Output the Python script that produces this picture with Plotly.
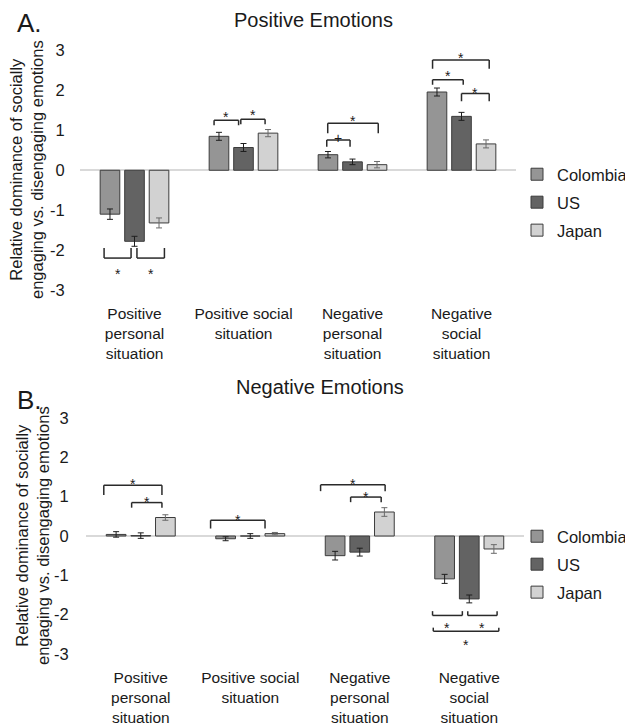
import plotly.graph_objects as go

# ---------------- data ----------------
categories = [
    "Positive<br>personal<br>situation",
    "Positive social<br>situation",
    "Negative<br>personal<br>situation",
    "Negative<br>social<br>situation",
]
countries = ["Colombia", "US", "Japan"]
y_ticks = [-3, -2, -1, 0, 1, 2, 3]
y_tick_labels = ["-3", "-2", "-1", "0", "1", "2", "3"]

# Panel A: Positive emotions
pos_colombia = [-1.10, 0.85, 0.39, 1.96]
pos_us = [-1.78, 0.57, 0.21, 1.35]
pos_japan = [-1.32, 0.93, 0.14, 0.66]
pos_err_colombia = [0.13, 0.10, 0.08, 0.10]
pos_err_us = [0.125, 0.10, 0.07, 0.10]
pos_err_japan = [0.125, 0.09, 0.08, 0.10]

# Panel B: Negative emotions
neg_colombia = [0.04, -0.07, -0.50, -1.09]
neg_us = [0.01, 0.00, -0.41, -1.60]
neg_japan = [0.47, 0.06, 0.61, -0.33]
neg_err_colombia = [0.07, 0.05, 0.11, 0.115]
neg_err_us = [0.07, 0.06, 0.10, 0.10]
neg_err_japan = [0.07, 0.03, 0.11, 0.11]

# significance brackets: (category, from bar, to bar, level, tip level, label, label level)
pos_brackets = [
    (0, -0.24, 0.86, -2.20, -1.95, "*", -2.52),
    (0, 1.10, 2.22, -2.20, -1.95, "*", -2.52),
    (1, -0.20, 0.80, 1.25, 1.13, "*", 1.42),
    (1, 0.89, 1.88, 1.28, 1.15, "*", 1.47),
    (2, -0.05, 0.90, 0.76, 0.59, "+", 0.80),
    (2, -0.01, 2.05, 1.18, 0.93, "*", 1.30),
    (3, -0.18, 2.13, 2.76, 2.54, "*", 2.88),
    (3, -0.18, 1.07, 2.27, 2.14, "*", 2.44),
    (3, 1.00, 2.13, 1.92, 1.73, "*", 2.02),
]
neg_brackets = [
    (0, -0.50, 1.86, 1.29, 1.04, "*", 1.40),
    (0, 0.63, 1.86, 0.85, 0.72, "*", 0.93),
    (1, -0.61, 1.60, 0.40, 0.19, "*", 0.49),
    (2, -0.59, 2.03, 1.30, 1.14, "*", 1.40),
    (2, 0.63, 1.87, 0.99, 0.86, "*", 1.08),
    (3, -0.49, 0.72, -2.02, -1.91, "*", -2.27),
    (3, 0.94, 2.13, -2.02, -1.91, "*", -2.27),
    (3, -0.46, 2.20, -2.42, -2.33, "*", -2.69),
]

# ---------------- style ----------------
FONT = "Liberation Sans, Arial, sans-serif"
TXT = "#1a1a1a"
bar_colors = {"Colombia": "#959595", "US": "#636363", "Japan": "#d2d2d2"}
err_colors = {"Colombia": "#1e1e1e", "US": "#1e1e1e", "Japan": "#6a6a6a"}
BARGAP = 0.325
BARGROUPGAP = 0.2
SLOT = (1 - BARGAP) / 3

# the page body has an 8px margin, so the figure is drawn 8px in from the window corner
OFF = 8
W, H = 633 - OFF, 726 - OFF


def px(x):
    return (x - OFF) / W


def py(y):
    return 1 - (y - OFF) / H


fig = go.Figure()

panels = [
    ("pos", [pos_colombia, pos_us, pos_japan], [pos_err_colombia, pos_err_us, pos_err_japan], "x", "y", "legend"),
    ("neg", [neg_colombia, neg_us, neg_japan], [neg_err_colombia, neg_err_us, neg_err_japan], "x2", "y2", "legend2"),
]

for pname, vals, errs, xa, ya, leg in panels:
    for country, v, e in zip(countries, vals, errs):
        fig.add_trace(go.Bar(
            x=categories, y=v, name=country,
            xaxis=xa, yaxis=ya, legend=leg,
            legendgroup=f"{pname}-{country}",
            marker=dict(color=bar_colors[country], line=dict(color="#3c3c3c", width=1)),
            error_y=dict(type="data", array=e, color=err_colors[country], thickness=1, width=3),
        ))

shapes = []
annotations = []


def add_brackets(brackets, xref, yref):
    for cat, b0, b1, lvl, tip, label, ly in brackets:
        x0 = cat + (b0 - 1) * SLOT
        x1 = cat + (b1 - 1) * SLOT
        line = dict(color="#2a2a2a", width=1.5)
        for (xa0, ya0, xa1, ya1) in [(x0, tip, x0, lvl), (x0, lvl, x1, lvl), (x1, lvl, x1, tip)]:
            shapes.append(dict(type="line", xref=xref, yref=yref,
                               x0=xa0, y0=ya0, x1=xa1, y1=ya1, line=line))
        annotations.append(dict(
            xref=xref, yref=yref, x=(x0 + x1) / 2, y=ly, text=label,
            showarrow=False, xanchor="center", yanchor="middle",
            yshift=-3 if label == "*" else 0,
            font=dict(family=FONT, size=14, color=TXT),
        ))


add_brackets(pos_brackets, "x", "y")
add_brackets(neg_brackets, "x2", "y2")

# panel titles and letters
for text, x, y, size in [
    ("Positive Emotions", 313, 20, 20),
    ("Negative Emotions", 320, 387, 20),
    ("A.", 29, 23, 26),
    ("B.", 29, 400, 26),
]:
    annotations.append(dict(xref="paper", yref="paper", x=px(x), y=py(y), text=text,
                            showarrow=False, xanchor="center", yanchor="middle",
                            font=dict(family=FONT, size=size, color=TXT)))

# y axis titles
ytitle = "Relative dominance of socially<br>engaging vs. disengaging emotions"
for x, y in [(26, 170), (32, 536)]:
    annotations.append(dict(xref="paper", yref="paper", x=px(x), y=py(y), text=ytitle,
                            showarrow=False, xanchor="center", yanchor="middle", textangle=-90,
                            font=dict(family=FONT, size=16.5, color=TXT)))

xcommon = dict(type="category", range=[-0.5, 3.5], showgrid=False, zeroline=False,
               showline=False, ticks="outside", tickcolor="rgba(0,0,0,0)",
               tickfont=dict(family=FONT, size=15.5, color=TXT), automargin=False)
ycommon = dict(range=[-3, 3], tickvals=y_ticks, ticktext=y_tick_labels, showgrid=False,
               zeroline=True, zerolinecolor="#d9d9d9", zerolinewidth=2, showline=False,
               ticks="outside", tickcolor="rgba(0,0,0,0)",
               tickfont=dict(family=FONT, size=16.5, color=TXT), automargin=False)

legcommon = dict(xanchor="left", yanchor="top", tracegroupgap=3.5, bgcolor="rgba(0,0,0,0)",
                 font=dict(family=FONT, size=16.5, color=TXT), itemclick=False)

fig.update_layout(
    width=W, height=H,
    margin=dict(l=0, r=0, t=0, b=0),
    template="none",
    paper_bgcolor="white", plot_bgcolor="white",
    barmode="group", bargap=BARGAP, bargroupgap=BARGROUPGAP,
    font=dict(family=FONT, color=TXT),
    xaxis=dict(domain=[px(80), px(516)], anchor="y", ticklen=9, **xcommon),
    yaxis=dict(domain=[py(290), py(50.5)], anchor="x", ticklen=11, **ycommon),
    xaxis2=dict(domain=[px(86), px(524)], anchor="y2", ticklen=9, **xcommon),
    yaxis2=dict(domain=[py(654), py(418)], anchor="x2", ticklen=13, **ycommon),
    legend=dict(x=px(517), y=py(157), **legcommon),
    legend2=dict(x=px(517), y=py(519), **legcommon),
    shapes=shapes,
    annotations=annotations,
    showlegend=True,
)

fig.write_html("out.html")
